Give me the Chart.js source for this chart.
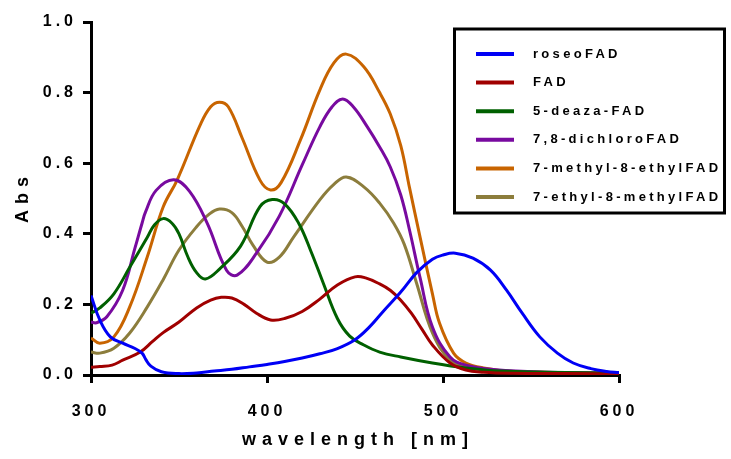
<!DOCTYPE html>
<html>
<head>
<meta charset="utf-8">
<script src="https://cdn.jsdelivr.net/npm/chart.js@4.4.1/dist/chart.umd.min.js"></script>
<style>
  html, body { margin: 0; padding: 0; background: #fff; }
  #wrap { width: 731px; height: 459px; }
</style>
</head>
<body>
<div id="wrap"><canvas id="absChart" width="731" height="459"></canvas></div>
<script>
// ─── DATA ──────────────────────────────────────────────────────────────
var seriesLabels = ['roseoFAD', 'FAD', '5-deaza-FAD', '7,8-dichloroFAD', '7-methyl-8-ethylFAD', '7-ethyl-8-methylFAD'];
var seriesColors = ['#0000f5', '#a00000', '#006000', '#780a9f', '#c86400', '#8c7d3c'];

var xTicks = [300, 400, 500, 600];
var yTicks = [0.0, 0.2, 0.4, 0.6, 0.8, 1.0];

var roseoNm  = [300, 305, 311, 318, 325, 329, 331, 334, 340, 350, 360, 370, 380, 390, 400, 410, 420, 430, 440, 450, 458, 466, 476, 485, 494, 500, 507, 517, 527, 536, 545, 555, 565, 574, 584, 593, 600];
var roseoAbs = [0.225, 0.156, 0.108, 0.09, 0.075, 0.062, 0.045, 0.025, 0.009, 0.004, 0.006, 0.011, 0.016, 0.023, 0.03, 0.038, 0.048, 0.06, 0.075, 0.1, 0.135, 0.18, 0.235, 0.29, 0.328, 0.34, 0.345, 0.331, 0.297, 0.241, 0.175, 0.108, 0.062, 0.034, 0.018, 0.01, 0.007];

var fadNm  = [300, 305, 312, 318, 328, 335, 341, 350, 360, 368, 374, 380, 387, 394, 402, 410, 420, 430, 440, 450, 456, 464, 470, 476, 482, 488, 494, 504, 513, 523, 540, 570, 600];
var fadAbs = [0.022, 0.024, 0.028, 0.042, 0.065, 0.095, 0.12, 0.15, 0.19, 0.212, 0.22, 0.218, 0.2, 0.175, 0.156, 0.16, 0.18, 0.215, 0.255, 0.278, 0.275, 0.258, 0.24, 0.212, 0.175, 0.13, 0.085, 0.034, 0.014, 0.008, 0.005, 0.004, 0.003];

var deazaNm  = [300, 305, 313, 322, 332, 336, 341, 346, 350, 355, 360, 365, 373, 385, 396, 403, 410, 418, 425, 432, 440, 447, 455, 464, 476, 494, 513, 533, 560, 600];
var deazaAbs = [0.175, 0.19, 0.23, 0.305, 0.39, 0.425, 0.443, 0.43, 0.4, 0.335, 0.29, 0.272, 0.3, 0.365, 0.477, 0.497, 0.485, 0.43, 0.35, 0.26, 0.16, 0.11, 0.085, 0.065, 0.051, 0.034, 0.02, 0.011, 0.008, 0.005];

var dichloroNm  = [300, 303, 309, 318, 325, 329, 331, 337, 347, 356, 366, 377, 383, 394, 407, 420, 430, 437, 443, 449, 457, 464, 470, 476, 481, 487, 494, 504, 513, 530, 560, 600];
var dichloroAbs = [0.15, 0.148, 0.165, 0.24, 0.36, 0.43, 0.462, 0.523, 0.553, 0.52, 0.43, 0.297, 0.283, 0.345, 0.45, 0.595, 0.703, 0.76, 0.782, 0.76, 0.703, 0.646, 0.59, 0.51, 0.41, 0.275, 0.136, 0.051, 0.028, 0.015, 0.008, 0.005];

var methylEthylNm  = [300, 305, 313, 322, 332, 341, 349, 362, 368, 373, 378, 386, 396, 402, 408, 419, 430, 438, 445, 455, 464, 470, 476, 481, 487, 494, 498, 506, 513, 523, 540, 600];
var methylEthylAbs = [0.105, 0.09, 0.108, 0.193, 0.335, 0.476, 0.553, 0.708, 0.76, 0.773, 0.76, 0.67, 0.552, 0.524, 0.545, 0.666, 0.807, 0.884, 0.909, 0.873, 0.8, 0.74, 0.65, 0.53, 0.39, 0.23, 0.147, 0.062, 0.034, 0.02, 0.01, 0.005];

var ethylMethylNm  = [300, 305, 313, 322, 332, 341, 350, 360, 367, 373, 380, 386, 392, 400, 407, 415, 430, 438, 445, 455, 464, 472, 478, 485, 494, 504, 513, 530, 560, 600];
var ethylMethylAbs = [0.065, 0.062, 0.076, 0.119, 0.193, 0.27, 0.354, 0.42, 0.455, 0.47, 0.46, 0.42, 0.368, 0.32, 0.334, 0.39, 0.496, 0.54, 0.561, 0.533, 0.487, 0.43, 0.37, 0.26, 0.119, 0.042, 0.023, 0.012, 0.007, 0.005];

var seriesNm  = [roseoNm, fadNm, deazaNm, dichloroNm, methylEthylNm, ethylMethylNm];
var seriesAbs = [roseoAbs, fadAbs, deazaAbs, dichloroAbs, methylEthylAbs, ethylMethylAbs];

// ─── CHART ─────────────────────────────────────────────────────────────
var FONT = '"Liberation Sans", Arial, sans-serif';

function toPoints(nm, abs) {
    return nm.map(function (x, i) { return { x: x, y: abs[i] }; });
}

var datasets = seriesLabels.map(function (label, i) {
    return {
        label: label,
        data: toPoints(seriesNm[i], seriesAbs[i]),
        borderColor: seriesColors[i],
        backgroundColor: seriesColors[i],
        borderWidth: 3,
        pointRadius: 0,
        fill: false,
        tension: 0.4
    };
});

// Prism style text: bold with wide letter spacing
var spacingPlugin = {
    id: 'spacing',
    beforeDraw: function (chart) {
        chart.ctx.letterSpacing = '4px';
    }
};

// Axis titles and boxed legend drawn by hand
var decorPlugin = {
    id: 'decor',
    afterDraw: function (chart) {
        var ctx = chart.ctx;
        ctx.save();
        ctx.fillStyle = '#000';
        ctx.font = 'bold 18px ' + FONT;
        ctx.letterSpacing = '6px';
        ctx.textAlign = 'center';
        ctx.textBaseline = 'middle';
        ctx.fillText('wavelength [nm]', 358, 440);
        ctx.save();
        ctx.translate(23, 200);
        ctx.rotate(-Math.PI / 2);
        ctx.fillText('Abs', 3, 0);
        ctx.restore();

        // legend box
        ctx.fillStyle = '#fff';
        ctx.fillRect(455, 29, 269, 184);
        ctx.strokeStyle = '#000';
        ctx.lineWidth = 3;
        ctx.strokeRect(454.5, 29, 270, 184);

        ctx.font = 'bold 13px ' + FONT;
        ctx.letterSpacing = '3.3px';
        ctx.textAlign = 'left';
        ctx.textBaseline = 'middle';
        chart.data.datasets.forEach(function (ds, i) {
            var y = 54 + i * 28.6;
            ctx.strokeStyle = ds.borderColor;
            ctx.lineWidth = 4;
            ctx.beginPath();
            ctx.moveTo(476, y);
            ctx.lineTo(514, y);
            ctx.stroke();
            ctx.fillStyle = '#000';
            ctx.fillText(ds.label, 533, y);
        });
        ctx.restore();
    }
};

new Chart(document.getElementById('absChart').getContext('2d'), {
    type: 'line',
    data: { datasets: datasets },
    options: {
        responsive: false,
        animation: false,
        layout: { padding: { left: 0, top: 22, right: 112, bottom: 0 } },
        plugins: {
            legend: { display: false },
            tooltip: { enabled: false }
        },
        scales: {
            x: {
                type: 'linear',
                min: 300, max: 600,
                afterFit: function (s) { s.height = 84; },
                afterBuildTicks: function (s) {
                    s.ticks = xTicks.map(function (v) { return { value: v }; });
                },
                grid: { display: true, drawOnChartArea: false, drawTicks: true, tickLength: 8, color: '#000', lineWidth: 3 },
                border: { display: true, color: '#000', width: 3 },
                ticks: {
                    color: '#000',
                    padding: 19,
                    maxRotation: 0,
                    font: { family: FONT, size: 16, weight: 'bold' },
                    callback: function (v) { return String(v); }
                }
            },
            y: {
                min: 0, max: 1,
                afterFit: function (s) { s.width = 91; },
                afterBuildTicks: function (s) {
                    s.ticks = yTicks.map(function (v) { return { value: v }; });
                },
                grid: { display: true, drawOnChartArea: false, drawTicks: true, tickLength: 8, color: '#000', lineWidth: 3 },
                border: { display: true, color: '#000', width: 3 },
                ticks: {
                    color: '#000',
                    padding: 6,
                    font: { family: FONT, size: 16, weight: 'bold' },
                    callback: function (v) { return Number(v).toFixed(1); }
                }
            }
        }
    },
    plugins: [spacingPlugin, decorPlugin]
});
</script>
</body>
</html>
